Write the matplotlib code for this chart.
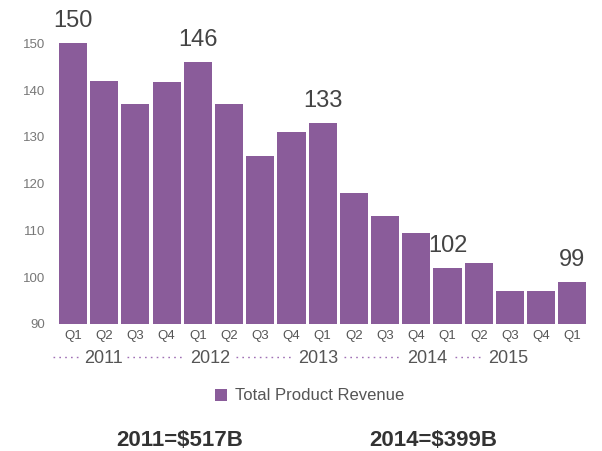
import numpy as np
import matplotlib.pyplot as plt

plt.rcParams['font.family'] = ['Liberation Sans', 'DejaVu Sans']

# quarterly total product revenue
quarters = ['Q1', 'Q2', 'Q3', 'Q4', 'Q1', 'Q2', 'Q3', 'Q4', 'Q1',
            'Q2', 'Q3', 'Q4', 'Q1', 'Q2', 'Q3', 'Q4', 'Q1']
revenue = [150, 142, 137, 141.7, 146, 137, 126, 131, 133,
           118, 113, 109.5, 102, 103, 97, 97, 99]
labelled = [0, 4, 8, 12, 16]
years = ['2011', '2012', '2013', '2014', '2015']
totals = ['2011=$517B', '2014=$399B']

bar_color = '#8a5c9a'

fig = plt.figure(figsize=(6.02, 4.51), dpi=100)
ax = fig.add_axes([0.0953, 0.2816, 0.8814, 0.7055])

x = np.arange(len(revenue))
ax.bar(x, revenue, width=0.9, color=bar_color, label='Total Product Revenue')
ax.set_xlim(-0.5, len(revenue) - 0.5)
ax.set_ylim(90, 158)
ax.set_yticks([90, 100, 110, 120, 130, 140, 150])
ax.tick_params(axis='y', length=0, labelsize=9.5, labelcolor='#777777', pad=9)
ax.set_xticks(x)
ax.set_xticklabels(quarters)
ax.tick_params(axis='x', length=0, labelsize=9.5, labelcolor='#555555', pad=4)
for s in ax.spines.values():
    s.set_visible(False)

for i in labelled:
    ax.text(x[i], revenue[i] + 2.4, f'{revenue[i]:g}', ha='center', va='bottom',
            fontsize=17, color='#444444')

# year row with dotted lead-ins
trans = ax.get_xaxis_transform()
year_x = [0.98, 4.39, 7.85, 11.35, 13.3]
year_ha = ['center', 'center', 'center', 'center', 'left']
dots = [(-0.64, 0.2), (1.73, 3.5), (5.22, 7.0), (8.69, 10.46), (12.24, 13.04)]
for yr, xp, ha, (d0, d1) in zip(years, year_x, year_ha, dots):
    ax.text(xp, -0.11, yr, transform=trans, ha=ha, va='center',
            fontsize=13, color='#555555', clip_on=False)
    ax.plot([d0, d1], [-0.105, -0.105], transform=trans, color='#a070b5',
            linestyle=(0, (1.2, 3)), linewidth=1, clip_on=False)

leg = fig.legend(loc='center', bbox_to_anchor=(0.515, 1 - 396 / 451), frameon=False,
                 fontsize=12, handlelength=0.7, handleheight=0.7, handletextpad=0.5)
for t in leg.get_texts():
    t.set_color('#555555')

fig.text(180 / 602, 1 - 440 / 451, totals[0], ha='center', va='center',
         fontsize=16, fontweight='bold', color='#333333')
fig.text(433 / 602, 1 - 440 / 451, totals[1], ha='center', va='center',
         fontsize=16, fontweight='bold', color='#333333')

fig.savefig('out.png', dpi=100)
